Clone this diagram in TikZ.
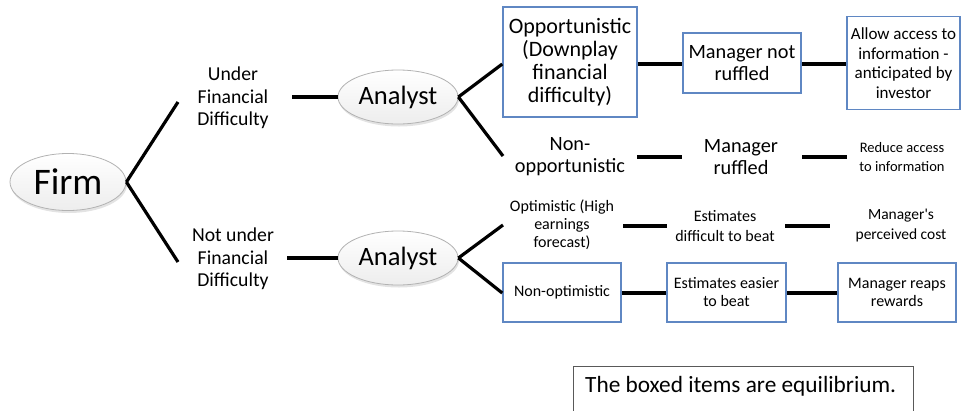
\documentclass[tikz,border=0pt]{standalone}
\usepackage{fontspec}
\setmainfont{Carlito}[Ligatures=TeXOff]
\usetikzlibrary{shadows,shapes.geometric}
\definecolor{boxblue}{RGB}{95,135,195}
\tikzset{
  x=1pt,y=-1pt,
  oval/.style={ellipse,draw=gray!60,line width=0.8pt,top color=white,bottom color=gray!14,
    drop shadow={shadow xshift=1pt,shadow yshift=-2.5pt,opacity=0.22},inner sep=0pt},
  eqbox/.style={draw=boxblue,line width=1.5pt,fill=white,align=center,inner sep=2pt},
  plain/.style={align=center,inner sep=1pt},
  link/.style={line width=3.2pt,black}
}
\newcommand{\fs}[2]{\fontsize{#1}{#2}\selectfont}
\begin{document}
\begin{tikzpicture}
\useasboundingbox (0,0) rectangle (962,410);
% Firm
\node[oval,minimum width=116,minimum height=57,font=\fs{37.5}{40}] (firm) at (68,182) {Firm};
\node[plain,font=\fs{19.7}{22.5}] (under) at (233,98) {Under\\Financial\\Difficulty};
\node[plain,font=\fs{19.7}{22.5}] (notunder) at (233,259) {Not under\\Financial\\Difficulty};
\draw[link] (firm.east) -- (178,102) coordinate (fu);
\draw[link] (firm.east) -- (178,262) coordinate (fl);
% Analysts
\node[oval,minimum width=120,minimum height=54,font=\fs{26.5}{30}] (an1) at (398,97) {Analyst};
\node[oval,minimum width=120,minimum height=54,font=\fs{26.5}{30}] (an2) at (398,258) {Analyst};
\draw[link] (292,97) coordinate (u1) -- (an1.west);
\draw[link] (287,258) coordinate (u2) -- (an2.west);
% Upper branch
\node[eqbox,minimum width=134,minimum height=110,font=\fs{22}{23}] (opp) at (570,62) {Opportunistic\\(Downplay\\financial\\difficulty)};
\node[eqbox,minimum width=118,minimum height=60,font=\fs{20.3}{22}] (mnr) at (742,63) {Manager not\\ruffled};
\node[eqbox,minimum width=113,minimum height=93,font=\fs{17}{19.5}] (allow) at (903.5,63) {Allow access to\\information -\\anticipated by\\investor};
\draw[link] (an1.east) -- (opp.west |- 0,64);
\draw[link] (opp.east |- 0,64) -- (mnr.west |- 0,64);
\draw[link] (mnr.east |- 0,64) -- (allow.west |- 0,64);
\node[plain,font=\fs{20.3}{22}] (nonopp) at (570,157) {Non-\\opportunistic};
\node[plain,font=\fs{20.3}{22}] (mr) at (741,157) {Manager\\ruffled};
\node[plain,font=\fs{14.5}{19}] (reduce) at (902,157) {Reduce access\\to information};
\draw[link] (an1.east) -- (503,156) coordinate (nl);
\draw[link] (637,157) coordinate (a1) -- (682,157) coordinate (a2);
\draw[link] (802,157) coordinate (b1) -- (847,157) coordinate (b2);
% Lower branch
\node[plain,font=\fs{16}{18}] (optim) at (562,225) {Optimistic (High\\earnings\\forecast)};
\node[plain,font=\fs{16}{20}] (edb) at (725,226) {Estimates\\difficult to beat};
\node[plain,font=\fs{15.5}{20}] (mpc) at (901,226) {Manager's\\perceived cost};
\draw[link] (an2.east) -- (503,225) coordinate (ol);
\draw[link] (623,226) coordinate (c1) -- (667,226) coordinate (c2);
\draw[link] (785,226) coordinate (d1) -- (830,226) coordinate (d2);
\node[eqbox,minimum width=118,minimum height=59,font=\fs{16}{18}] (nonopt) at (562,292.5) {Non-optimistic};
\node[eqbox,minimum width=119,minimum height=59,font=\fs{16}{18}] (eeb) at (726.5,292.5) {Estimates easier\\to beat};
\node[eqbox,minimum width=118,minimum height=59,font=\fs{16}{18}] (mrr) at (897,292.5) {Manager reaps\\rewards};
\draw[link] (an2.east) -- (nonopt.west |- 0,293);
\draw[link] (nonopt.east |- 0,293) -- (eeb.west |- 0,293);
\draw[link] (eeb.east |- 0,293) -- (mrr.west |- 0,293);
% Legend
\draw[gray!70!black,line width=1pt] (573,412) -- (573,366) -- (913,366) -- (913,412);
\node[anchor=west,inner sep=0pt,font=\fs{23.3}{26}] (legend) at (585,386) {The boxed items are equilibrium.};
\end{tikzpicture}
\end{document}
